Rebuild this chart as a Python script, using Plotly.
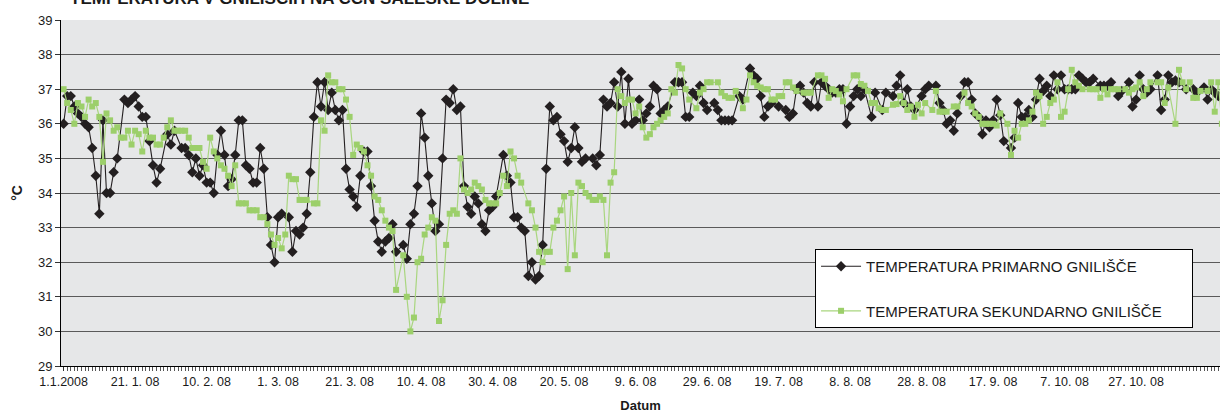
import pandas as pd
import plotly.graph_objects as go

# Daily digester temperatures (°C) from 1 Jan 2008; None = no reading that day
start_date = "2008-01-01"

primary_temp = [
    36.0, 36.8, 36.8, 36.5, 36.3, 36.2, 36.0, 35.9, 35.3, 34.5,
    33.4, 36.1, 34.0, 34.0, 34.6, 35.0, None, 36.7, 36.6, 36.7,
    36.8, 36.5, 36.2, 36.2, 35.5, 34.8, 34.3, 34.7, None, 35.7,
    35.4, 35.8, None, 35.3, 35.3, 35.1, 34.6, 35.0, 34.5, 34.8,
    34.3, 34.3, 34.0, 35.1, 35.8, 35.1, 34.2, 34.4, 35.1, 36.1,
    36.1, 34.8, 34.7, 34.3, 34.3, 35.3, 34.7, 33.3, 32.5, 32.0,
    33.3, 33.4, None, 33.3, 32.3, 32.9, 32.8, 33.0, 33.4, 34.6,
    36.2, 37.2, 36.5, 37.2, 36.4, 36.9, 36.4, 36.1, 36.4, 34.7,
    34.1, 33.9, 33.6, 34.5, 35.2, 35.2, 34.2, 33.2, 32.6, 32.3,
    32.6, 32.7, 33.1, 32.3, None, 32.5, 32.1, 33.1, 33.4, 34.2,
    36.3, 35.6, 34.5, 33.7, 32.9, 33.1, 35.0, 36.7, 36.6, 37.0,
    36.4, 36.5, 34.2, 33.6, 33.4, 33.9, 33.7, 33.1, 32.9, 33.5,
    33.6, 33.9, None, 35.1, 34.5, 34.3, 33.3, 33.3, 33.0, 32.9,
    31.6, 32.0, 31.5, 31.6, 32.5, 34.7, 36.5, 36.1, 36.2, 35.7,
    35.5, 34.9, 35.3, 35.9, 35.3, 34.9, 35.0, None, 35.0, 34.8,
    35.1, 36.7, 36.5, 36.6, 37.2, 36.5, 37.5, 36.0, 37.3, 36.0,
    36.1, 36.7, 36.1, 36.3, 36.5, 37.1, 37.0, 36.3, 36.4, 36.5,
    None, 37.2, 37.2, 37.2, 36.2, 36.2, 36.9, 36.8, 37.1, 36.6,
    36.4, None, 36.6, 36.4, 36.1, 36.1, 36.1, 36.1, None, 36.8,
    36.7, None, 37.6, 37.4, 37.3, 36.8, 36.2, 36.5, 36.6, None,
    36.5, None, 36.4, 36.2, 36.3, 37.0, 37.1, 36.9, 36.6, 36.5,
    37.2, 36.5, 37.2, 37.1, 37.0, 36.9, 36.9, 37.0, 37.0, 36.0,
    36.5, 36.8, 37.0, 36.8, 37.0, None, 36.2, 36.9, None, 36.4,
    36.9, None, 36.8, 37.1, 37.4, 36.6, 37.0, 36.5, 36.4, None,
    36.8, 37.0, 37.1, None, 37.1, 36.6, 36.4, 36.0, 36.1, 35.8,
    36.3, 36.8, 37.2, 37.2, 36.7, 36.3, 36.2, 35.7, 36.1, 35.9,
    36.1, 36.7, 36.25, 35.5, None, 35.3, 35.6, 36.6, 36.2, 36.2,
    36.4, 36.2, 36.7, 37.3, 36.95, 37.1, 36.8, 37.4, 37.0, 37.4,
    37.0, 37.0, 37.0, 37.0, 37.4, 37.3, 37.2, 37.2, 37.3, None,
    37.1, 37.1, 37.1, 37.2, None, 36.8, 36.95, None, 37.2, 36.5,
    36.7, 37.4, 37.0, 36.9, 37.0, None, 37.4, 36.4, 36.7, 37.4,
    37.2, 37.25, 37.2, None, 37.0, None, 37.0, 36.9, None, 37.05,
    36.7, 37.0, 36.9, 36.8,
]

secondary_temp = [
    37.0, 36.6, 36.4, 36.0, 36.6, 36.5, 36.2, 36.7, 36.5, 36.6,
    36.2, 34.9, 36.3, 36.1, 35.8, 35.9, 35.6, 35.6, 35.8, 35.4,
    35.8, 35.7, 35.2, 35.8, 35.6, 35.6, 35.4, 35.4, 35.6, 35.9,
    36.1, 35.8, 35.8, 35.8, 35.8, 35.6, 35.3, 35.3, 35.3, 34.9,
    34.7, 35.6, 35.2, 35.0, 34.8, 34.7, 34.5, 34.2, 34.8, 33.7,
    33.7, 33.7, 33.5, 33.5, 33.5, 33.3, 33.3, 33.1, 32.8, 32.5,
    32.7, 32.4, 32.8, 34.5, 34.4, 34.4, 33.8, 33.8, 33.8, None,
    33.7, 33.7, 36.1, 35.8, 37.4, 37.2, 37.2, 37.0, 37.0, 36.7,
    36.2, 35.1, 35.4, 35.3, 35.2, 34.8, 34.5, 33.9, 33.8, 33.5,
    33.2, 33.0, 32.9, 31.2, None, 32.2, 31.0, 30.0, 30.4, 32.0,
    32.1, 32.8, 33.0, 33.3, 33.2, 30.3, 30.9, 32.5, 33.4, 33.5,
    33.4, 35.0, 34.1, 34.0, 34.1, 34.3, 34.2, 34.1, 33.8, 33.7,
    33.7, 33.7, 34.0, 34.5, 34.2, 35.2, 35.0, 34.5, 34.3, None,
    33.7, 33.5, 33.0, 32.3, 32.0, 32.3, 32.3, 33.0, 33.2, 33.5,
    33.9, 31.8, 34.0, 32.2, 34.3, 34.2, 34.0, 33.9, 33.8, 33.8,
    33.9, 33.8, 32.2, 34.3, 34.6, 37.0, 36.8, 36.6, 36.7, 36.7,
    36.3, 36.5, 35.9, 35.6, 35.7, 35.9, 36.0, 36.1, 36.2, 36.3,
    37.0, 36.9, 37.7, 37.6, 37.0, 36.7, None, 36.45, 36.9, 37.0,
    37.2, 37.2, None, 37.2, 36.9, 36.8, 36.75, 36.75, 36.95, None,
    36.45, 36.7, 37.4, 37.2, 37.1, 37.05, 37.0, 37.0, 36.7, 36.7,
    36.8, 36.8, 37.2, 37.2, 37.05, 36.95, None, 36.9, 36.9, 36.9,
    None, 37.4, 37.4, 37.3, 36.75, 37.0, 36.95, 36.85, 36.65, 37.0,
    None, 37.4, 37.4, 37.15, 37.1, 36.95, 36.6, 36.6, 36.45, 36.4,
    36.4, None, 36.55, 36.57, 36.8, 36.6, 36.4, 36.5, 36.2, 36.55,
    36.3, 36.6, None, 36.4, 36.95, 36.35, 36.35, 36.35, None, 36.5,
    36.5, None, 36.9, 36.6, 36.5, 36.3, 36.2, 36.0, 36.0, 36.0,
    36.0, 35.95, 36.3, None, 36.0, 35.1, 35.8, 35.6, 36.0, 36.0,
    36.1, 36.35, 36.9, 36.8, 36.0, 36.2, 36.6, 36.7, 37.2, 36.2,
    36.35, 37.0, 37.56, 37.2, 37.1, 37.0, None, 37.0, 37.0, 37.0,
    36.75, 37.0, 36.85, 37.0, 37.0, 37.0, None, 37.0, 36.9, 37.0,
    37.05, 37.2, 36.8, 37.0, 37.2, None, 37.2, 37.2, 36.6, 37.05,
    None, 36.0, 37.56, 37.2, 37.0, 37.2, 36.75, 36.75, 36.95, None,
    36.95, 37.2, 36.35, 37.2, 36.0,
]

tick_dates = ["2008-01-01", "2008-01-21", "2008-02-10", "2008-03-01", "2008-03-21",
              "2008-04-10", "2008-04-30", "2008-05-20", "2008-06-09", "2008-06-29",
              "2008-07-19", "2008-08-08", "2008-08-28", "2008-09-17", "2008-10-07",
              "2008-10-27"]
tick_labels = ["1.1.2008", "21. 1. 08", "10. 2. 08", "1. 3. 08", "21. 3. 08",
               "10. 4. 08", "30. 4. 08", "20. 5. 08", "9. 6. 08", "29. 6. 08",
               "19. 7. 08", "8. 8. 08", "28. 8. 08", "17. 9. 08", "7. 10. 08",
               "27. 10. 08"]

primary_dates = pd.date_range(start_date, periods=len(primary_temp), freq="D")
secondary_dates = pd.date_range(start_date, periods=len(secondary_temp), freq="D")

t0 = pd.Timestamp(start_date)
x_range = [t0 - pd.Timedelta(days=0.73), t0 + pd.Timedelta(days=323.47)]

FONT = "Liberation Sans, Arial, Helvetica, sans-serif"
BLACK = "#231f20"
GREEN = "#9ccf6a"
PAD = "&nbsp;" * 6  # extra room on the right of the legend box

fig = go.Figure()
fig.add_trace(go.Scatter(
    x=primary_dates, y=primary_temp, mode="lines+markers",
    name="TEMPERATURA PRIMARNO GNILIŠČE", legendgroup="p",
    connectgaps=True,
    line=dict(color=BLACK, width=1.1),
    marker=dict(symbol="diamond", size=8, color=BLACK),
))
fig.add_trace(go.Scatter(
    x=secondary_dates, y=secondary_temp, mode="lines+markers",
    name="TEMPERATURA SEKUNDARNO GNILIŠČE" + PAD, legendgroup="s",
    connectgaps=True,
    line=dict(color="#a9d67f", width=1.2),
    marker=dict(symbol="square", size=6, color=GREEN),
))

fig.add_annotation(
    text="<b>TEMPERATURA V GNILIŠČIH NA CČN ŠALEŠKE DOLINE</b>",
    xref="paper", yref="paper", x=0.006, y=1.029,
    xanchor="left", yanchor="bottom", showarrow=False,
    font=dict(family=FONT, size=17, color="#1a1a1a"),
)

fig.update_layout(
    width=1220, height=413,
    margin=dict(l=61, r=0, t=20, b=47),
    paper_bgcolor="white",
    plot_bgcolor="#e6e7e8",
    font=dict(family=FONT, size=13, color="#1a1a1a"),
    showlegend=True,
    legend=dict(
        x=0.6506, y=0.338, xanchor="left", yanchor="top",
        bgcolor="white", bordercolor="black", borderwidth=1,
        font=dict(family=FONT, size=15, color="#1a1a1a"),
        tracegroupgap=22, traceorder="grouped", itemwidth=40,
    ),
    xaxis=dict(
        type="date", range=x_range,
        tickmode="array", tickvals=tick_dates, ticktext=tick_labels,
        tickfont=dict(size=12.5),
        ticks="outside", ticklen=4, tickcolor="#333",
        minor=dict(dtick=86400000, tick0=start_date, ticks="outside",
                   ticklen=4, tickcolor="#555", showgrid=False),
        showgrid=False, zeroline=False,
        showline=True, linecolor="black", linewidth=1,
        title=dict(text="<b>Datum</b>", font=dict(size=13), standoff=13),
    ),
    yaxis=dict(
        range=[29, 39], dtick=1, tick0=29,
        tickfont=dict(size=13),
        ticks="outside", ticklen=5, tickcolor="#333",
        showgrid=True, gridcolor="#5a5a5a", gridwidth=1,
        zeroline=False,
        showline=True, linecolor="black", linewidth=1,
        title=dict(text="<b>°C</b>", font=dict(size=14), standoff=12),
    ),
)

fig.write_html("out.html")
